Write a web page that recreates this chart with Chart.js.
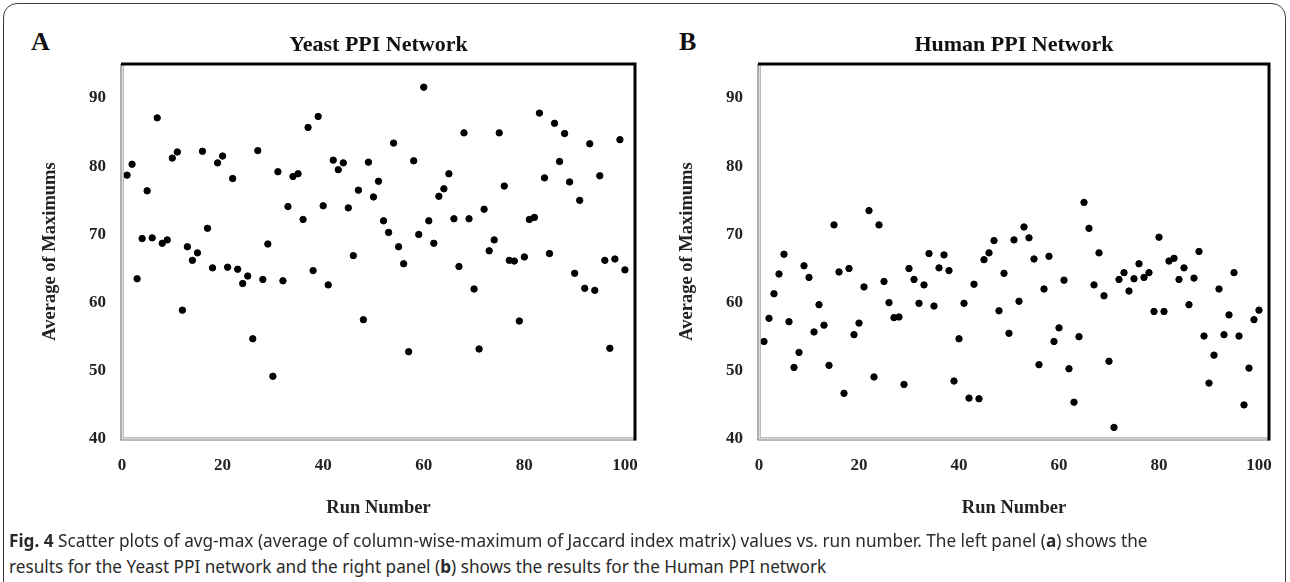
<!DOCTYPE html>
<html>
<head>
<meta charset="utf-8">
<script src="https://cdn.jsdelivr.net/npm/chart.js@4.4.1/dist/chart.umd.min.js"></script>
<style>
  body { margin: 0; background: #fff; width: 1290px; height: 582px; overflow: hidden; position: relative; }
  #frame { position: absolute; left: 3px; top: 3px; width: 1283px; height: 640px; border: 1.5px solid #3c3c3c; border-radius: 14px; box-sizing: border-box; }
  .panel { position: absolute; top: 0; }
  .letter { position: absolute; top: 27px; font: bold 26px "Liberation Serif", serif; color: #111; }
  .caption { position: absolute; left: 9px; font-size: 17.2px; line-height: 22px; font-family: "Noto Sans", sans-serif; color: #2a2a2a; white-space: nowrap; }
  .caption b { font-weight: bold; }
</style>
</head>
<body>
<div id="frame"></div>
<div class="letter" style="left:31px">A</div>
<div class="letter" style="left:679px">B</div>
<canvas id="yeastChart" class="panel" style="left:0px" width="645" height="530"></canvas>
<canvas id="humanChart" class="panel" style="left:637px" width="650" height="530"></canvas>
<div class="caption" style="top:530px"><b>Fig. 4</b> Scatter plots of avg-max (average of column-wise-maximum of Jaccard index matrix) values vs. run number. The left panel (<b>a</b>) shows the</div>
<div class="caption" style="top:556px">results for the Yeast PPI network and the right panel (<b>b</b>) shows the results for the Human PPI network</div>

<script>
// run number on x, avg-max value on y
const runNumbers = Array.from({ length: 100 }, (_, i) => i + 1);

const yeastAvgMax = [
    78.7, 80.3, 63.5, 69.4, 76.4, 69.5, 87.1, 68.7, 69.2, 81.2,
    82.1, 58.9, 68.2, 66.2, 67.3, 82.2, 70.9, 65.1, 80.5, 81.5,
    65.2, 78.2, 64.9, 62.8, 63.9, 54.7, 82.3, 63.4, 68.6, 49.2,
    79.2, 63.2, 74.1, 78.5, 78.9, 72.2, 85.7, 64.7, 87.3, 74.2,
    62.6, 80.9, 79.5, 80.5, 73.9, 66.9, 76.5, 57.5, 80.6, 75.5,
    77.8, 72.0, 70.3, 83.4, 68.2, 65.7, 52.8, 80.8, 70.0, 91.6,
    72.0, 68.7, 75.6, 76.7, 78.9, 72.3, 65.3, 84.9, 72.3, 62.0,
    53.2, 73.7, 67.6, 69.2, 84.9, 77.1, 66.2, 66.1, 57.3, 66.7,
    72.2, 72.5, 87.8, 78.3, 67.2, 86.3, 80.7, 84.8, 77.7, 64.3,
    75.0, 62.1, 83.3, 61.8, 78.6, 66.2, 53.3, 66.4, 83.9, 64.8
];

const humanAvgMax = [
    54.3, 57.7, 61.3, 64.2, 67.1, 57.2, 50.5, 52.7, 65.4, 63.7,
    55.7, 59.7, 56.7, 50.8, 71.4, 64.5, 46.7, 65.0, 55.3, 57.0,
    62.3, 73.5, 49.1, 71.4, 63.1, 60.0, 57.8, 57.9, 48.0, 65.0,
    63.4, 59.9, 62.6, 67.2, 59.5, 65.1, 67.0, 64.7, 48.5, 54.7,
    59.9, 46.0, 62.7, 45.9, 66.3, 67.3, 69.1, 58.8, 64.3, 55.5,
    69.2, 60.2, 71.1, 69.5, 66.4, 50.9, 62.0, 66.8, 54.3, 56.3,
    63.3, 50.3, 45.4, 55.0, 74.7, 70.9, 62.6, 67.3, 61.0, 51.4,
    41.7, 63.4, 64.4, 61.7, 63.5, 65.7, 63.7, 64.4, 58.7, 69.6,
    58.7, 66.1, 66.5, 63.4, 65.1, 59.7, 63.6, 67.5, 55.1, 48.2,
    52.3, 62.0, 55.3, 58.2, 64.4, 55.1, 45.0, 50.4, 57.5, 58.9
];

const xTicks = [0, 20, 40, 60, 80, 100];
const yTicks = [40, 50, 60, 70, 80, 90];

const serif = '"Liberation Serif", "Times New Roman", serif';

// excel-style box: black top/right, grey double line left/bottom
const boxBorder = {
    id: 'boxBorder',
    afterDraw(chart) {
        const { ctx, chartArea: a } = chart;
        ctx.save();
        ctx.strokeStyle = '#777';
        ctx.lineWidth = 1.2;
        ctx.beginPath();
        ctx.moveTo(a.left - 1, a.top); ctx.lineTo(a.left - 1, a.bottom + 1); ctx.lineTo(a.right, a.bottom + 1);
        ctx.stroke();
        ctx.strokeStyle = '#aaa';
        ctx.beginPath();
        ctx.moveTo(a.left + 1.2, a.top); ctx.lineTo(a.left + 1.2, a.bottom - 1.2); ctx.lineTo(a.right, a.bottom - 1.2);
        ctx.stroke();
        ctx.strokeStyle = '#000';
        ctx.lineWidth = 3;
        ctx.beginPath();
        ctx.moveTo(a.left - 1, a.top); ctx.lineTo(a.right, a.top); ctx.lineTo(a.right, a.bottom + 1.5);
        ctx.stroke();
        ctx.restore();
    }
};

function makePanel(id, title, values, padRight) {
    new Chart(document.getElementById(id), {
        type: 'scatter',
        data: {
            datasets: [{
                data: values.map((v, i) => ({ x: runNumbers[i], y: v })),
                backgroundColor: '#000',
                borderColor: '#000',
                pointRadius: 3.2,
                pointHoverRadius: 3.2
            }]
        },
        options: {
            responsive: false,
            animation: false,
            devicePixelRatio: 1,
            layout: { padding: { left: 0, right: padRight, top: 0, bottom: 0 } },
            plugins: {
                legend: { display: false },
                tooltip: { enabled: false },
                title: {
                    display: true,
                    text: title,
                    fullSize: false,
                    color: '#111',
                    font: { family: serif, size: 22, weight: 'bold', lineHeight: 1.2 },
                    padding: { top: 32, bottom: 5.6 }
                }
            },
            scales: {
                x: {
                    type: 'linear',
                    min: 0,
                    max: 102,
                    grid: { display: false, drawTicks: false },
                    border: { display: false },
                    ticks: { color: '#222', font: { family: serif, size: 17, weight: 'bold' }, padding: 16 },
                    afterBuildTicks: s => { s.ticks = xTicks.map(v => ({ value: v })); },
                    afterFit: s => { s.height = 91; s.paddingLeft = 0; s.paddingRight = 0; },
                    title: {
                        display: true,
                        text: 'Run Number',
                        color: '#222',
                        font: { family: serif, size: 18.5, weight: 'bold' },
                        padding: { top: 0, bottom: 11 }
                    }
                },
                y: {
                    min: 40,
                    max: 95,
                    grid: { display: false, drawTicks: false },
                    border: { display: false },
                    ticks: { color: '#222', font: { family: serif, size: 17, weight: 'bold' }, padding: 16 },
                    afterBuildTicks: s => { s.ticks = yTicks.map(v => ({ value: v })); },
                    afterFit: s => { s.width = 122; s.paddingTop = 0; s.paddingBottom = 0; },
                    title: {
                        display: true,
                        text: 'Average of Maximums',
                        color: '#222',
                        font: { family: serif, size: 18.5, weight: 'bold' },
                        padding: { top: 39, bottom: 0 }
                    }
                }
            }
        },
        plugins: [boxBorder]
    });
}

makePanel('yeastChart', 'Yeast PPI Network', yeastAvgMax, 10);
makePanel('humanChart', 'Human PPI Network', humanAvgMax, 18);
</script>
</body>
</html>
